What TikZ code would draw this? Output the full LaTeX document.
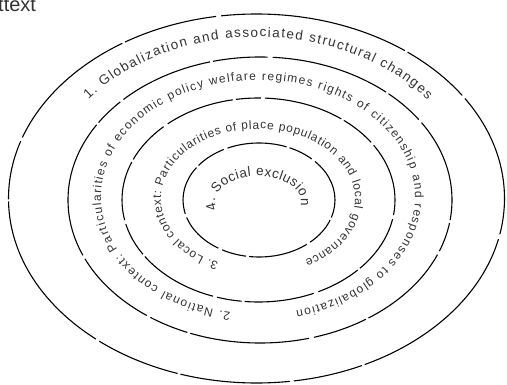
\documentclass[tikz,border=0pt]{standalone}
\usepackage{fontspec}
\setmainfont{Liberation Sans}
\usetikzlibrary{decorations.text}
\begin{document}
\begin{tikzpicture}[x=1pt,y=1pt,
  ring/.style={line width=1.1pt, draw=black},
  arctext/.style={decorate, decoration={text along path, text align={fit to path}, text color=black!80}},
  corner/.style={anchor=base west, inner sep=0pt, text=black!80, font=\fontsize{20}{24}\selectfont}
]
\useasboundingbox (0,0) rectangle (507,384);
\clip (0,0) rectangle (507,384);
\node[corner] (tt) at (-2,373) {ttext};

% centres
\coordinate (c1) at (256.5,185.5);
\coordinate (c2) at (260,184);
\coordinate (c3) at (258.5,184);
\coordinate (c4) at (259,184);

% rings
\draw[ring, dash pattern=on 110pt off 4pt on 70pt off 3pt on 190pt off 5pt on 95pt off 3pt on 140pt off 4pt on 60pt off 2pt on 170pt off 4pt on 85pt off 3pt]
  (c1) ellipse [x radius=248pt, y radius=184.5pt];
\draw[ring, dash pattern=on 85pt off 4pt on 40pt off 3pt on 120pt off 5pt on 55pt off 3pt on 95pt off 4pt on 30pt off 3pt on 140pt off 4pt]
  (c2) ellipse [x radius=192pt, y radius=143pt];
\draw[ring, dash pattern=on 60pt off 4pt on 35pt off 3pt on 80pt off 4pt on 25pt off 3pt on 70pt off 5pt on 45pt off 3pt]
  (c3) ellipse [x radius=136.5pt, y radius=102pt];
\draw[ring, dash pattern=on 45pt off 4pt on 25pt off 3pt on 60pt off 4pt on 30pt off 3pt on 50pt off 4pt]
  (c4) ellipse [x radius=76pt, y radius=57pt];

% texts
\coordinate (t1) at (258,184);
\coordinate (t2) at (258,187);
\coordinate (t3) at (258,185);
\coordinate (t4) at (258,182);

\path[arctext, decoration={text={|\fontsize{13.5}{15}\selectfont|1. Globalization and associated structural changes}}]
  (t1) ++(142:215pt and 163pt) arc[start angle=142, end angle=38, x radius=215pt, y radius=163pt];
\path[arctext, decoration={text={|\fontsize{12}{14}\selectfont|2. National context: Particularities of economic policy welfare regimes rights of citizenship and responses to globalization}}]
  (t2) ++(260:157pt and 117pt) arc[start angle=260, end angle=-76, x radius=157pt, y radius=117pt];
\path[arctext, decoration={text={|\fontsize{12}{14}\selectfont|3. Local context: Particularities of place population and local governance}}]
  (t3) ++(246:97pt and 70pt) arc[start angle=246, end angle=-61, x radius=97pt, y radius=70pt];
\path[arctext, decoration={text={|\fontsize{13.5}{15}\selectfont|4. Social exclusion}}]
  (t4) ++(197:43pt and 26pt) arc[start angle=197, end angle=-8, x radius=43pt, y radius=26pt];
\end{tikzpicture}
\end{document}
